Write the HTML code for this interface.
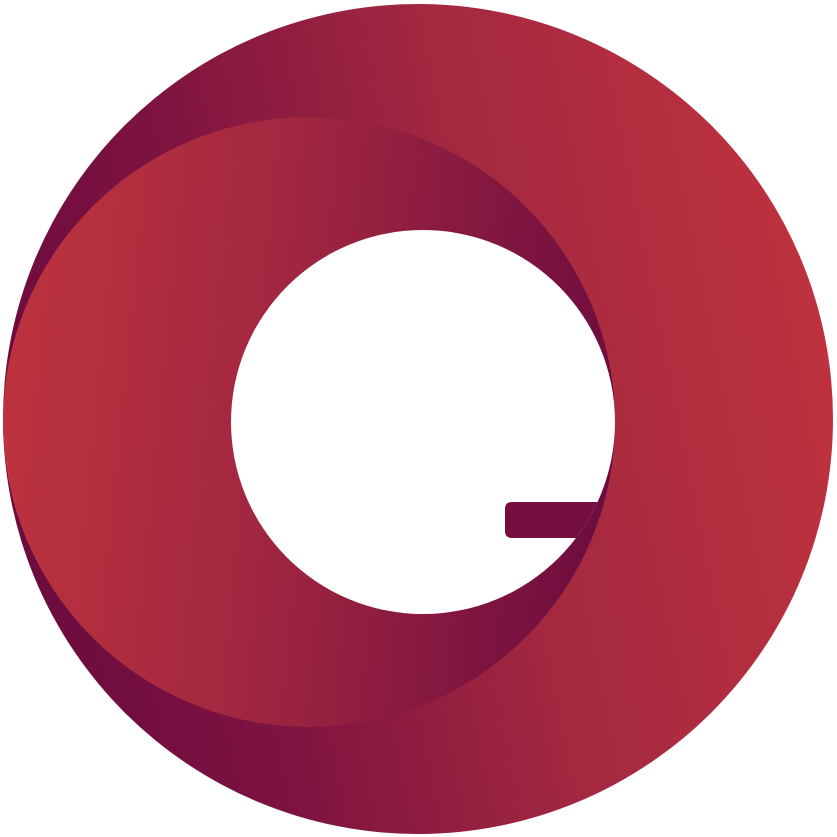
<!DOCTYPE html>
<html>
<head>
<meta charset="utf-8">
<style>
  html,body{margin:0;padding:0;background:#fff;}
  svg{display:block;}
</style>
</head>
<body>
<svg width="837" height="837" viewBox="0 0 837 837">
  <defs>
    <linearGradient id="outerGrad" x1="0" y1="0.6" x2="1" y2="0.4">
      <stop offset="0" stop-color="#6c0b3f"/>
      <stop offset="0.25" stop-color="#7c1240"/>
      <stop offset="0.6" stop-color="#a32840"/>
      <stop offset="1" stop-color="#be323e"/>
    </linearGradient>
    <linearGradient id="innerGrad" x1="0" y1="0.45" x2="1" y2="0.55">
      <stop offset="0" stop-color="#bd333e"/>
      <stop offset="0.45" stop-color="#a02640"/>
      <stop offset="1" stop-color="#6d0c3f"/>
    </linearGradient>
    <clipPath id="holeClip">
      <circle cx="423" cy="422" r="192"/>
    </clipPath>
  </defs>
  <circle cx="418" cy="419" r="415" fill="url(#outerGrad)"/>
  <ellipse cx="309" cy="422" rx="306" ry="305" fill="url(#innerGrad)"/>
  <circle cx="423" cy="422" r="192" fill="#ffffff"/>
  <path clip-path="url(#holeClip)" d="M512 502 L640 502 L640 538 L512 538 Q505 538 505 531 L505 509 Q505 502 512 502 Z" fill="#730e3f"/>
</svg>
</body>
</html>
